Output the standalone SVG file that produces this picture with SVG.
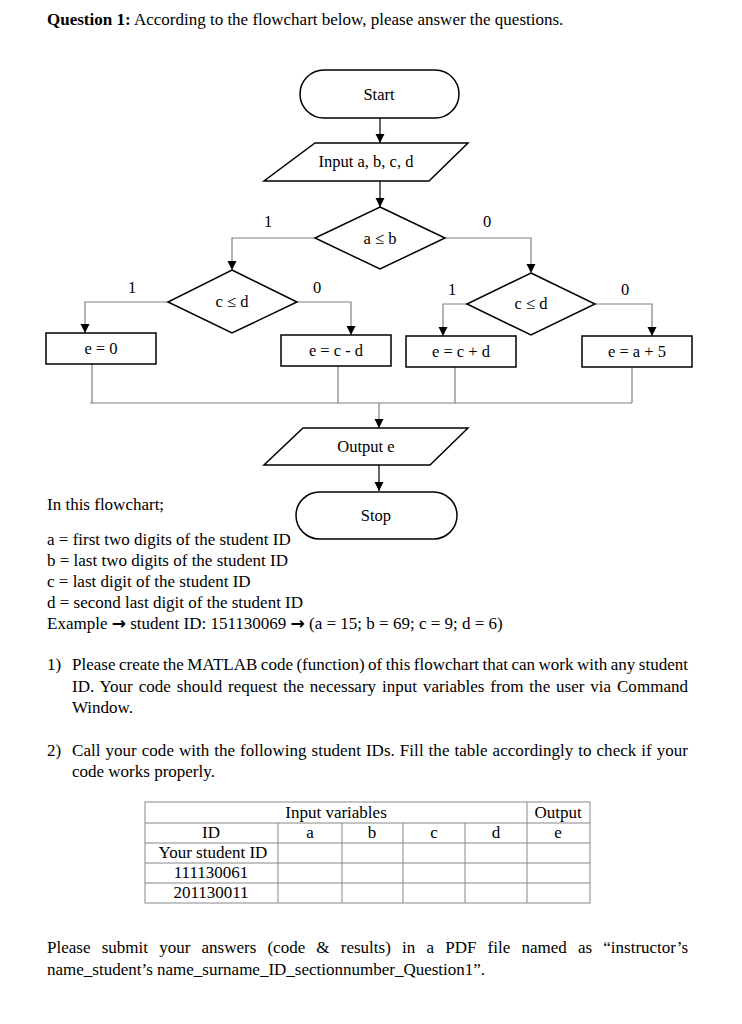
<svg xmlns="http://www.w3.org/2000/svg" width="742" height="1024" viewBox="0 0 742 1024">
<style>
text{font-family:"Liberation Serif","Times New Roman",serif;fill:#000}
.t{font-size:17px}
.n{font-size:16.5px;text-anchor:middle}
.c{font-size:16.5px;text-anchor:middle}
.tc{font-size:17px;text-anchor:middle}
.ar{font-family:"DejaVu Sans",sans-serif;font-weight:bold;font-size:17px}
.shape{fill:#fff;stroke:#000;stroke-width:1.5}
.main{fill:none;stroke:#000;stroke-width:1.2}
.br{fill:none;stroke:#808080;stroke-width:1.2}
.tb{fill:none;stroke:#888;stroke-width:1}
</style>
<defs>
<marker id="ah" markerUnits="userSpaceOnUse" markerWidth="10" markerHeight="10" refX="9" refY="4.5" orient="auto">
<path d="M0,0 L9,4.5 L0,9 z" fill="#000"/>
</marker>
</defs>
<rect width="742" height="1024" fill="#fff"/>
<text class="t" x="47" y="25"><tspan font-weight="bold">Question 1:</tspan> According to the flowchart below, please answer the questions.</text>

<g id="connectors">
<path class="main" d="M380,118 V143" marker-end="url(#ah)"/>
<path class="main" d="M380,181 V207" marker-end="url(#ah)"/>
<path class="br" d="M315,238 H232 V270" marker-end="url(#ah)"/>
<path class="br" d="M445,238 H531 V273" marker-end="url(#ah)"/>
<path class="br" d="M168,302 H85 V333" marker-end="url(#ah)"/>
<path class="br" d="M297,302 H351 V335" marker-end="url(#ah)"/>
<path class="br" d="M467,304 H443 V336" marker-end="url(#ah)"/>
<path class="br" d="M595,304 H652 V336" marker-end="url(#ah)"/>
<path class="br" d="M92,364 V403 M338,366 V403 M455,367 V403 M632,367 V403 M90,403 H632"/>
<path class="br" d="M379,403 V428" marker-end="url(#ah)"/>
<path class="main" d="M379,465 V491" marker-end="url(#ah)"/>
<text class="c" x="268" y="227">1</text>
<text class="c" x="487" y="227">0</text>
<text class="c" x="132" y="293">1</text>
<text class="c" x="317" y="293">0</text>
<text class="c" x="452" y="295">1</text>
<text class="c" x="625" y="295">0</text>
</g>

<g id="start"><rect class="shape" x="300" y="70" width="159" height="48" rx="24"/><text class="n" x="379" y="100">Start</text></g>
<g id="input"><polygon class="shape" points="315,143 468,143 429,181 264,181"/><text class="n" x="366" y="167">Input a, b, c, d</text></g>
<g id="dec1"><polygon class="shape" points="380,207 445,238 380,269 315,238"/><text class="n" x="380" y="244">a ≤ b</text></g>
<g id="dec2"><polygon class="shape" points="232,270 297,302 232,333 168,302"/><text class="n" x="232" y="307">c ≤ d</text></g>
<g id="dec3"><polygon class="shape" points="531,273 595,304 531,335 467,304"/><text class="n" x="531" y="309">c ≤ d</text></g>
<g id="e0"><rect class="shape" x="46" y="333" width="110" height="31"/><text class="n" x="101" y="354">e = 0</text></g>
<g id="ecmd"><rect class="shape" x="281" y="335" width="110" height="31"/><text class="n" x="336" y="356">e = c - d</text></g>
<g id="ecpd"><rect class="shape" x="406" y="336" width="110" height="31"/><text class="n" x="461" y="357">e = c + d</text></g>
<g id="ea5"><rect class="shape" x="582" y="336" width="110" height="31"/><text class="n" x="637" y="357">e = a + 5</text></g>
<g id="output"><polygon class="shape" points="303,428 468,428 430,465 264,465"/><text class="n" x="366" y="452">Output e</text></g>
<g id="stop"><rect class="shape" x="296" y="492" width="161" height="47" rx="23.5"/><text class="n" x="376" y="521">Stop</text></g>

<text class="t" x="47" y="510">In this flowchart;</text>
<text class="t" x="47" y="545">a = first two digits of the student ID</text>
<text class="t" x="47" y="566">b = last two digits of the student ID</text>
<text class="t" x="47" y="587">c = last digit of the student ID</text>
<text class="t" x="47" y="608">d = second last digit of the student ID</text>
<text class="t" x="47" y="629">Example <tspan class="ar">→</tspan> student ID: 151130069 <tspan class="ar">→</tspan> (a = 15; b = 69; c = 9; d = 6)</text>

<text class="t" x="47" y="670">1)</text>
<text class="t" x="72" y="670" style="word-spacing:-0.85px" textLength="616" lengthAdjust="spacing">Please create the MATLAB code (function) of this flowchart that can work with any student</text>
<text class="t" x="72" y="692" style="word-spacing:1.55px" textLength="616" lengthAdjust="spacing">ID. Your code should request the necessary input variables from the user via Command</text>
<text class="t" x="72" y="713">Window.</text>
<text class="t" x="47" y="756">2)</text>
<text class="t" x="72" y="756" style="word-spacing:0.58px" textLength="616" lengthAdjust="spacing">Call your code with the following student IDs. Fill the table accordingly to check if your</text>
<text class="t" x="72" y="777">code works properly.</text>

<g id="table">
<rect class="tb" x="145" y="802" width="445" height="101"/>
<path class="tb" d="M145,823 H590 M145,843 H590 M145,863 H590 M145,883 H590 M527,802 V903 M278,823 V903 M342,823 V903 M403,823 V903 M465,823 V903"/>
<text class="tc" x="336" y="818">Input variables</text>
<text class="tc" x="558" y="818">Output</text>
<text class="tc" x="211" y="838">ID</text>
<text class="tc" x="310" y="838">a</text>
<text class="tc" x="372" y="838">b</text>
<text class="tc" x="434" y="838">c</text>
<text class="tc" x="496" y="838">d</text>
<text class="tc" x="558" y="838">e</text>
<text class="tc" x="213" y="858">Your student ID</text>
<text class="tc" x="211" y="878">111130061</text>
<text class="tc" x="211" y="898">201130011</text>
</g>

<text class="t" x="47" y="953" style="word-spacing:6.92px" textLength="641" lengthAdjust="spacing">Please submit your answers (code &amp; results) in a PDF file named as “instructor’s</text>
<text class="t" x="47" y="975">name_student’s name_surname_ID_sectionnumber_Question1”.</text>
</svg>
